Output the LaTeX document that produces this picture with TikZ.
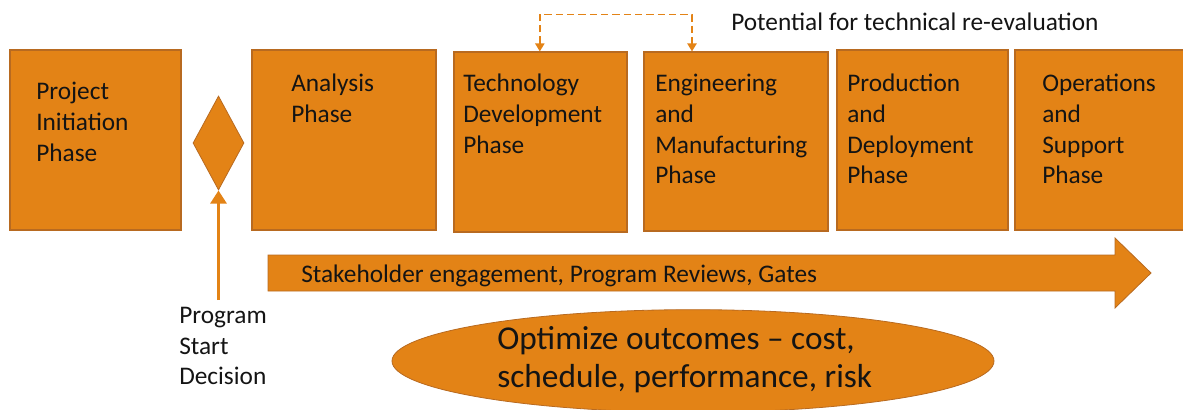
\documentclass[tikz,border=0pt]{standalone}
\usepackage{fontspec}
\setmainfont{Carlito}
\usetikzlibrary{shapes.geometric,arrows.meta}
\definecolor{phasefill}{RGB}{227,131,22}
\definecolor{phaseline}{RGB}{184,106,32}
\definecolor{txtgray}{RGB}{20,20,20}

\tikzset{
  phase/.style={draw=phaseline,fill=phasefill,line width=0.9pt,inner sep=0pt,minimum height=135pt},
  lbl/.style={anchor=north west,inner sep=0pt,align=left,text=txtgray,font=\fontsize{19}{23}\selectfont},
  reeval/.style={draw=phasefill,line width=1.1pt,dash pattern=on 5.5pt off 3pt,{Triangle[width=7pt,length=6pt]}-{Triangle[width=7pt,length=6pt]}}
}

\begin{document}
\begin{tikzpicture}[x=0.75pt,y=-0.75pt]
        \useasboundingbox (0,0) rectangle (1183,410);
        \clip (0,0) rectangle (1183,410);
        % phase boxes
        \node[phase,minimum width=128.25pt] (init) at (95.5,140) {};
        \node[phase,minimum width=138pt] (anlys) at (344,140) {};
        \node[phase,minimum width=129.75pt] (tech) at (540.5,142) {};
        \node[phase,minimum width=138pt,minimum height=134.25pt] (eng) at (736,141.5) {};
        \node[phase,minimum width=128.25pt] (prod) at (922.5,140) {};
        \node[phase,minimum width=131.25pt] (ops) at (1102.5,140) {};
        \node[lbl] (initTxt) at (36,82) {Project\\Initiation\\Phase};
        \node[lbl] (anlysTxt) at (291,74) {Analysis\\Phase};
        \node[lbl] (techTxt) at (463,74) {Technology\\Development\\Phase};
        \node[lbl] (engTxt) at (655,74) {Engineering\\and\\Manufacturing\\Phase};
        \node[lbl] (prodTxt) at (847,74) {Production\\and\\Deployment\\Phase};
        \node[lbl] (opsTxt) at (1042,74) {Operations\\and\\Support\\Phase};

        % decision gate
        \node[diamond,draw=phaseline,fill=phasefill,line width=0.6pt,inner sep=0pt,
              minimum width=38.25pt,minimum height=70.5pt] (gate) at (218.5,143) {};
        \coordinate (gateFoot) at (218.5,300);
        \draw[phasefill,line width=2.6pt,-{Triangle[width=12pt,length=10pt]}] (gateFoot) -- (gate.south);
        \node[lbl] (gateTxt) at (179,307) {Program\\Start\\Decision};

        % technical re-evaluation loop
        \draw[reeval] ([xshift=-0.5pt]tech.north) -- ++(0,-37) -| ([xshift=-33pt]eng.north);
        \node[lbl] (reevalTxt) at (731,13) {Potential for technical re-evaluation};

        % process arrow
        \filldraw[draw=phaseline,fill=phasefill,line width=0.6pt]
            (268,255) -- (1115,255) -- (1115,238) -- (1151,273) -- (1115,308) -- (1115,291) -- (268,291) -- cycle;
        \node[lbl] (flowTxt) at (301,265) {Stakeholder engagement, Program Reviews, Gates};

        % outcome ellipse
        \node[ellipse,draw=phaseline,fill=phasefill,line width=0.6pt,inner sep=0pt,
              minimum width=451.5pt,minimum height=77pt] (optim) at (693,361) {};
        \node[lbl,font=\fontsize{25}{29}\selectfont] (optimTxt) at (497,326) {Optimize outcomes -- cost,\\schedule, performance, risk};
    \end{tikzpicture}
\end{document}
